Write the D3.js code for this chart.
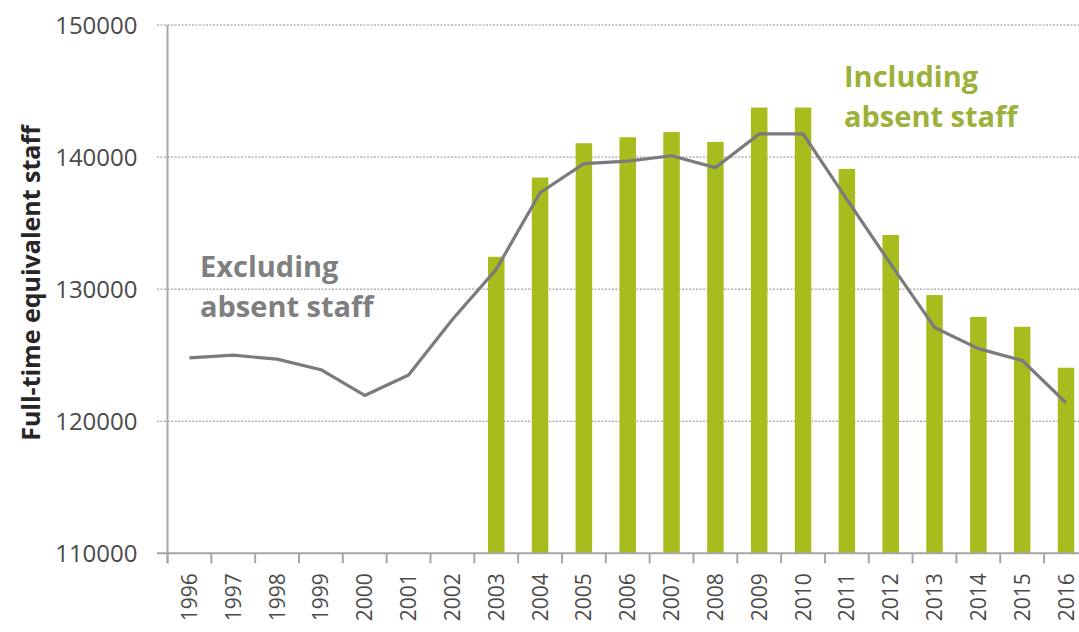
<!DOCTYPE html>
<html>
<head>
<meta charset="utf-8">
<script src="https://cdn.jsdelivr.net/npm/d3@7"></script>
<style>
  html, body { margin: 0; padding: 0; background: #fff; }
  svg { display: block; font-family: "Open Sans", "Noto Sans", sans-serif; }
</style>
</head>
<body>
<svg id="chart" width="1079" height="632"></svg>
<script>
const years = ["1996","1997","1998","1999","2000","2001","2002","2003","2004","2005","2006","2007","2008","2009","2010","2011","2012","2013","2014","2015","2016"];
const excludingAbsent = [124800,125000,124700,123900,121950,123500,127700,131500,137300,139500,139700,140100,139200,141750,141750,136800,131900,127100,125500,124600,121400];
const barYears = ["2003","2004","2005","2006","2007","2008","2009","2010","2011","2012","2013","2014","2015","2016"];
const includingAbsent = [132450,138450,141050,141500,141900,141150,143750,143750,139100,134100,129550,127900,127150,124050];
const yTicks = [110000,120000,130000,140000,150000];
const yTitle = "Full-time equivalent staff";
const labelIncluding = ["Including", "absent staff"];
const labelExcluding = ["Excluding", "absent staff"];

const FONT = '"Open Sans", "Noto Sans", sans-serif';
const svg = d3.select("#chart");
const x0 = 167.5, bandW = 43.83;
const x = d3.scaleBand().domain(years).range([x0, x0 + bandW * years.length]).padding(0);
const y = d3.scaleLinear().domain([110000, 150000]).range([553.3, 25]);

// gridlines
svg.append("g")
  .selectAll("line")
  .data(yTicks.filter(d => d > 110000))
  .join("line")
  .attr("x1", 157).attr("x2", 1079)
  .attr("y1", d => y(d)).attr("y2", d => y(d))
  .attr("stroke", "#8a8a8a").attr("stroke-width", 1)
  .attr("stroke-dasharray", "2,1.5");

// bars
const bw = 16.5;
svg.append("g")
  .selectAll("rect")
  .data(barYears.map((yr, i) => ({ yr, v: includingAbsent[i] })))
  .join("rect")
  .attr("x", d => x(d.yr) + x.bandwidth() / 2 - bw / 2)
  .attr("width", bw)
  .attr("y", d => y(d.v))
  .attr("height", d => y(110000) - y(d.v))
  .attr("fill", "#a8bc1e");

// y axis
const yAxis = d3.axisLeft(y).tickValues(yTicks).tickSize(10).tickFormat(d3.format("d")).tickPadding(20);
const gy = svg.append("g").attr("transform", `translate(${x0},0)`).call(yAxis)
  .attr("font-family", FONT);
gy.select(".domain").attr("stroke", "#a6a6a6").attr("stroke-width", 2).attr("d", `M0,${y(150000)}V${y(110000) + 10}`);
gy.selectAll(".tick line").attr("stroke", "none");
gy.selectAll(".tick text").attr("fill", "#4a4a4a").style("font-size", "24px").attr("dy", "0.36em");

// x axis
const xAxis = d3.axisBottom(x).tickSize(0).tickPadding(0);
const gx = svg.append("g").attr("transform", `translate(0,${y(110000)})`).call(xAxis)
  .attr("font-family", FONT);
gx.select(".domain").remove();
gx.append("line").attr("x1", 157).attr("x2", 1079).attr("y1", 0).attr("y2", 0)
  .attr("stroke", "#a6a6a6").attr("stroke-width", 2);
gx.selectAll(".tickmark")
  .data(years)
  .join("line")
  .attr("class", "tickmark")
  .attr("x1", d => x(d)).attr("x2", d => x(d))
  .attr("y1", 0).attr("y2", 10)
  .attr("stroke", "#a6a6a6").attr("stroke-width", 2);
gx.selectAll(".tick text")
  .attr("fill", "#4a4a4a")
  .style("font-size", "21px")
  .attr("text-anchor", "end")
  .attr("transform", "rotate(-90)")
  .attr("x", -20).attr("y", 0).attr("dy", "0.36em");

// line
const line = d3.line()
  .x((d, i) => x(years[i]) + x.bandwidth() / 2)
  .y(d => y(d));
svg.append("path")
  .datum(excludingAbsent)
  .attr("d", line)
  .attr("fill", "none")
  .attr("stroke", "#7a7a7f")
  .attr("stroke-width", 3.2)
  .attr("stroke-linejoin", "round");

// y title
svg.append("text")
  .attr("transform", "translate(40,283) rotate(-90)")
  .attr("text-anchor", "middle")
  .attr("fill", "#262626")
  .style("font-size", "25px").style("font-weight", "700")
  .text(yTitle);

// annotations
const inc = svg.append("text").attr("fill", "#9cb13a").style("font-size", "29px").style("font-weight", "700");
labelIncluding.forEach((t, i) => inc.append("tspan").attr("x", 844).attr("y", 87 + i * 40).text(t));
const exc = svg.append("text").attr("fill", "#7f7f7f").style("font-size", "29px").style("font-weight", "700");
labelExcluding.forEach((t, i) => exc.append("tspan").attr("x", 200).attr("y", 277 + i * 40).text(t));
</script>
</body>
</html>
